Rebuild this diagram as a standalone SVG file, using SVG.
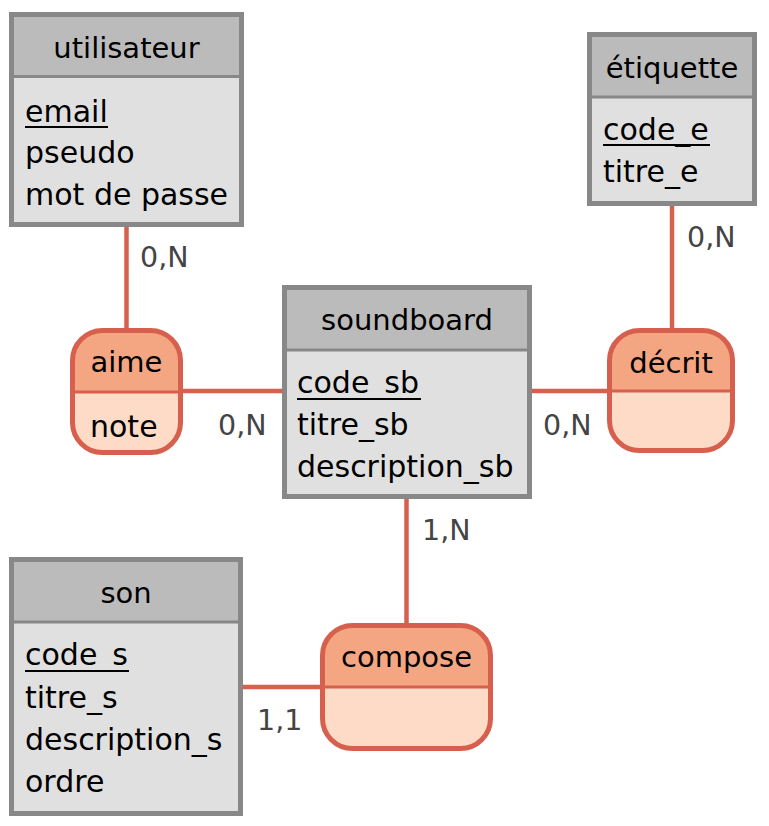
<svg xmlns="http://www.w3.org/2000/svg" width="769" height="826" viewBox="0 0 769 826">
<style>
text{font-family:"DejaVu Sans","Verdana",sans-serif;font-size:30px;fill:#000}
.ttl{text-anchor:middle;font-size:29px}
.card{fill:#444;font-size:28.5px}
.ehead{fill:#bbbbbb}
.ebody{fill:#e0e0e0}
.eframe{fill:none;stroke:#888888;stroke-width:5}
.ediv{stroke:#888888;stroke-width:3}
.rhead{fill:#f4a582}
.rbody{fill:#fddbc7}
.rframe{fill:none;stroke:#d6604d;stroke-width:5}
.rdiv{stroke:#d6604d;stroke-width:3}
.link{stroke:#d6604d;stroke-width:4.5;fill:none}
.key{stroke:#000;stroke-width:2}
</style>
<rect width="769" height="826" fill="#ffffff"/>
<g id="connectors">
<line class="link" x1="126.5" y1="226" x2="126.5" y2="330"/>
<line class="link" x1="182" y1="391" x2="283" y2="391"/>
<line class="link" x1="531" y1="391" x2="609" y2="391"/>
<line class="link" x1="672" y1="205" x2="672" y2="330"/>
<line class="link" x1="406.5" y1="498" x2="406.5" y2="625"/>
<line class="link" x1="242" y1="687" x2="322" y2="687"/>
<text class="card" x="140" y="267">0,N</text>
<text class="card" x="218" y="435">0,N</text>
<text class="card" x="543" y="435">0,N</text>
<text class="card" x="687" y="247">0,N</text>
<text class="card" x="422" y="540">1,N</text>
<text class="card" x="257" y="730">1,1</text>
</g>
<g id="utilisateur">
<rect class="ehead" x="11.5" y="14.5" width="230" height="62"/>
<rect class="ebody" x="11.5" y="76.5" width="230" height="148"/>
<line class="ediv" x1="11.5" y1="76.5" x2="241.5" y2="76.5"/>
<rect class="eframe" x="11.5" y="14.5" width="230" height="210"/>
<text class="ttl" x="126.5" y="58">utilisateur</text>
<text x="25" y="122">email</text>
<line class="key" x1="25" y1="127" x2="108" y2="127"/>
<text x="25" y="163">pseudo</text>
<text x="25" y="205">mot de passe</text>
</g>
<g id="etiquette">
<rect class="ehead" x="589.5" y="34.5" width="165" height="62.5"/>
<rect class="ebody" x="589.5" y="97" width="165" height="106.5"/>
<line class="ediv" x1="589.5" y1="97" x2="754.5" y2="97"/>
<rect class="eframe" x="589.5" y="34.5" width="165" height="169"/>
<text class="ttl" x="672" y="78">étiquette</text>
<text x="603" y="140">code_e</text>
<line class="key" x1="603" y1="145" x2="710" y2="145"/>
<text x="603" y="182">titre_e</text>
</g>
<g id="soundboard">
<rect class="ehead" x="284.5" y="287.5" width="245" height="62.5"/>
<rect class="ebody" x="284.5" y="350" width="245" height="146.5"/>
<line class="ediv" x1="284.5" y1="350" x2="529.5" y2="350"/>
<rect class="eframe" x="284.5" y="287.5" width="245" height="209"/>
<text class="ttl" x="407" y="330">soundboard</text>
<text x="297" y="393">code_sb</text>
<line class="key" x1="297" y1="399" x2="421" y2="399"/>
<text x="297" y="435">titre_sb</text>
<text x="297" y="477">description_sb</text>
</g>
<g id="son">
<rect class="ehead" x="11.5" y="559.5" width="229" height="62.5"/>
<rect class="ebody" x="11.5" y="622" width="229" height="191.5"/>
<line class="ediv" x1="11.5" y1="622" x2="240.5" y2="622"/>
<rect class="eframe" x="11.5" y="559.5" width="229" height="254"/>
<text class="ttl" x="126" y="603">son</text>
<text x="25" y="665">code_s</text>
<line class="key" x1="25" y1="671" x2="129" y2="671"/>
<text x="25" y="708">titre_s</text>
<text x="25" y="750">description_s</text>
<text x="25" y="792">ordre</text>
</g>
<g id="aime">
<path class="rhead" d="M72.5,392 V360.5 A30,30 0 0 1 102.5,330.5 H150.5 A30,30 0 0 1 180.5,360.5 V392 Z"/>
<path class="rbody" d="M72.5,392 V422.5 A30,30 0 0 0 102.5,452.5 H150.5 A30,30 0 0 0 180.5,422.5 V392 Z"/>
<line class="rdiv" x1="72.5" y1="392" x2="180.5" y2="392"/>
<rect class="rframe" x="72.5" y="330.5" width="108" height="122" rx="30"/>
<text class="ttl" x="126.5" y="372">aime</text>
<text x="90" y="437">note</text>
</g>
<g id="decrit">
<path class="rhead" d="M609.5,391 V360.5 A30,30 0 0 1 639.5,330.5 H702.5 A30,30 0 0 1 732.5,360.5 V391 Z"/>
<path class="rbody" d="M609.5,391 V420.5 A30,30 0 0 0 639.5,450.5 H702.5 A30,30 0 0 0 732.5,420.5 V391 Z"/>
<line class="rdiv" x1="609.5" y1="391" x2="732.5" y2="391"/>
<rect class="rframe" x="609.5" y="330.5" width="123" height="120" rx="30"/>
<text class="ttl" x="671" y="373">décrit</text>
</g>
<g id="compose">
<path class="rhead" d="M322.5,687 V655.5 A30,30 0 0 1 352.5,625.5 H460.5 A30,30 0 0 1 490.5,655.5 V687 Z"/>
<path class="rbody" d="M322.5,687 V718.5 A30,30 0 0 0 352.5,748.5 H460.5 A30,30 0 0 0 490.5,718.5 V687 Z"/>
<line class="rdiv" x1="322.5" y1="687" x2="490.5" y2="687"/>
<rect class="rframe" x="322.5" y="625.5" width="168" height="123" rx="30"/>
<text class="ttl" x="406.5" y="667">compose</text>
</g>
</svg>
